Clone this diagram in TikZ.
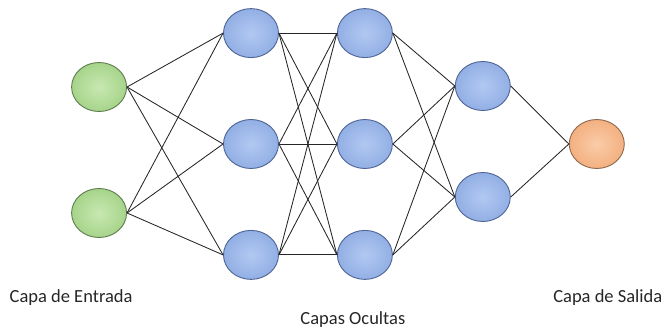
\documentclass[tikz,border=0pt]{standalone}
\usepackage{fontspec}
\setmainfont{Carlito}
\usepackage{xcolor}
\definecolor{ingreen}{RGB}{166,212,138}
\definecolor{ingreenlt}{RGB}{200,232,178}
\definecolor{ingreendk}{RGB}{96,124,78}
\definecolor{hidblue}{RGB}{146,175,228}
\definecolor{hidbluelt}{RGB}{178,200,242}
\definecolor{hidbluedk}{RGB}{78,100,150}
\definecolor{outorange}{RGB}{243,176,128}
\definecolor{outorangelt}{RGB}{250,204,168}
\definecolor{outorangedk}{RGB}{140,104,78}
\usetikzlibrary{shapes.geometric, positioning}

\begin{document}
\begin{tikzpicture}[
  neuron/.style={ellipse, draw, line width=0.9pt, minimum width=55pt, minimum height=49pt, inner sep=0pt},
  innode/.style={neuron, draw=ingreendk, inner color=ingreenlt, outer color=ingreen},
  hidnode/.style={neuron, draw=hidbluedk, inner color=hidbluelt, outer color=hidblue},
  outnode/.style={neuron, draw=outorangedk, inner color=outorangelt, outer color=outorange},
  conn/.style={line width=0.85pt, black!85},
  layername/.style={font=\fontsize{18.5}{22}\selectfont, inner sep=0pt, text=black!85}
]
\useasboundingbox (-251pt,144pt) rectangle (416pt,-185pt);

% hidden layers
\node[hidnode] (h1b) {};
\node[hidnode, above=61pt of h1b] (h1a) {};
\node[hidnode, below=61pt of h1b] (h1c) {};
\node[hidnode, right=58pt of h1b] (h2b) {};
\node[hidnode, above=61pt of h2b] (h2a) {};
\node[hidnode, below=61pt of h2b] (h2c) {};
\node[hidnode, right=62pt of h2b, yshift=58pt] (h3a) {};
\node[hidnode, right=62pt of h2b, yshift=-53pt] (h3b) {};

% input and output
\node[innode, left=96pt of h1b, yshift=57pt] (i1) {};
\node[innode, left=96pt of h1b, yshift=-69pt] (i2) {};
\node[outnode, right=176pt of h2b] (o1) {};

% layer names
\node[layername, below=52pt of i2, xshift=-28pt] (lin) {Capa de Entrada};
\node[layername, below=32pt of h2c, xshift=-12pt] (lhid) {Capas Ocultas};
\node[layername, below=121pt of o1, xshift=11pt] (lout) {Capa de Salida};

\draw[conn] (i1.east)--(h1a.west); \draw[conn] (i1.east)--(h1b.west); \draw[conn] (i1.east)--(h1c.west);
\draw[conn] (i2.east)--(h1a.west); \draw[conn] (i2.east)--(h1b.west); \draw[conn] (i2.east)--(h1c.west);
\draw[conn] (h1a.east)--(h2a.west); \draw[conn] (h1a.east)--(h2b.west); \draw[conn] (h1a.east)--(h2c.west);
\draw[conn] (h1b.east)--(h2a.west); \draw[conn] (h1b.east)--(h2b.west); \draw[conn] (h1b.east)--(h2c.west);
\draw[conn] (h1c.east)--(h2a.west); \draw[conn] (h1c.east)--(h2b.west); \draw[conn] (h1c.east)--(h2c.west);
\draw[conn] (h2a.east)--(h3a.west); \draw[conn] (h2a.east)--(h3b.west);
\draw[conn] (h2b.east)--(h3a.west); \draw[conn] (h2b.east)--(h3b.west);
\draw[conn] (h2c.east)--(h3a.west); \draw[conn] (h2c.east)--(h3b.west);
\draw[conn] (h3a.east)--(o1.west); \draw[conn] (h3b.east)--(o1.west);
\end{tikzpicture}
\end{document}
